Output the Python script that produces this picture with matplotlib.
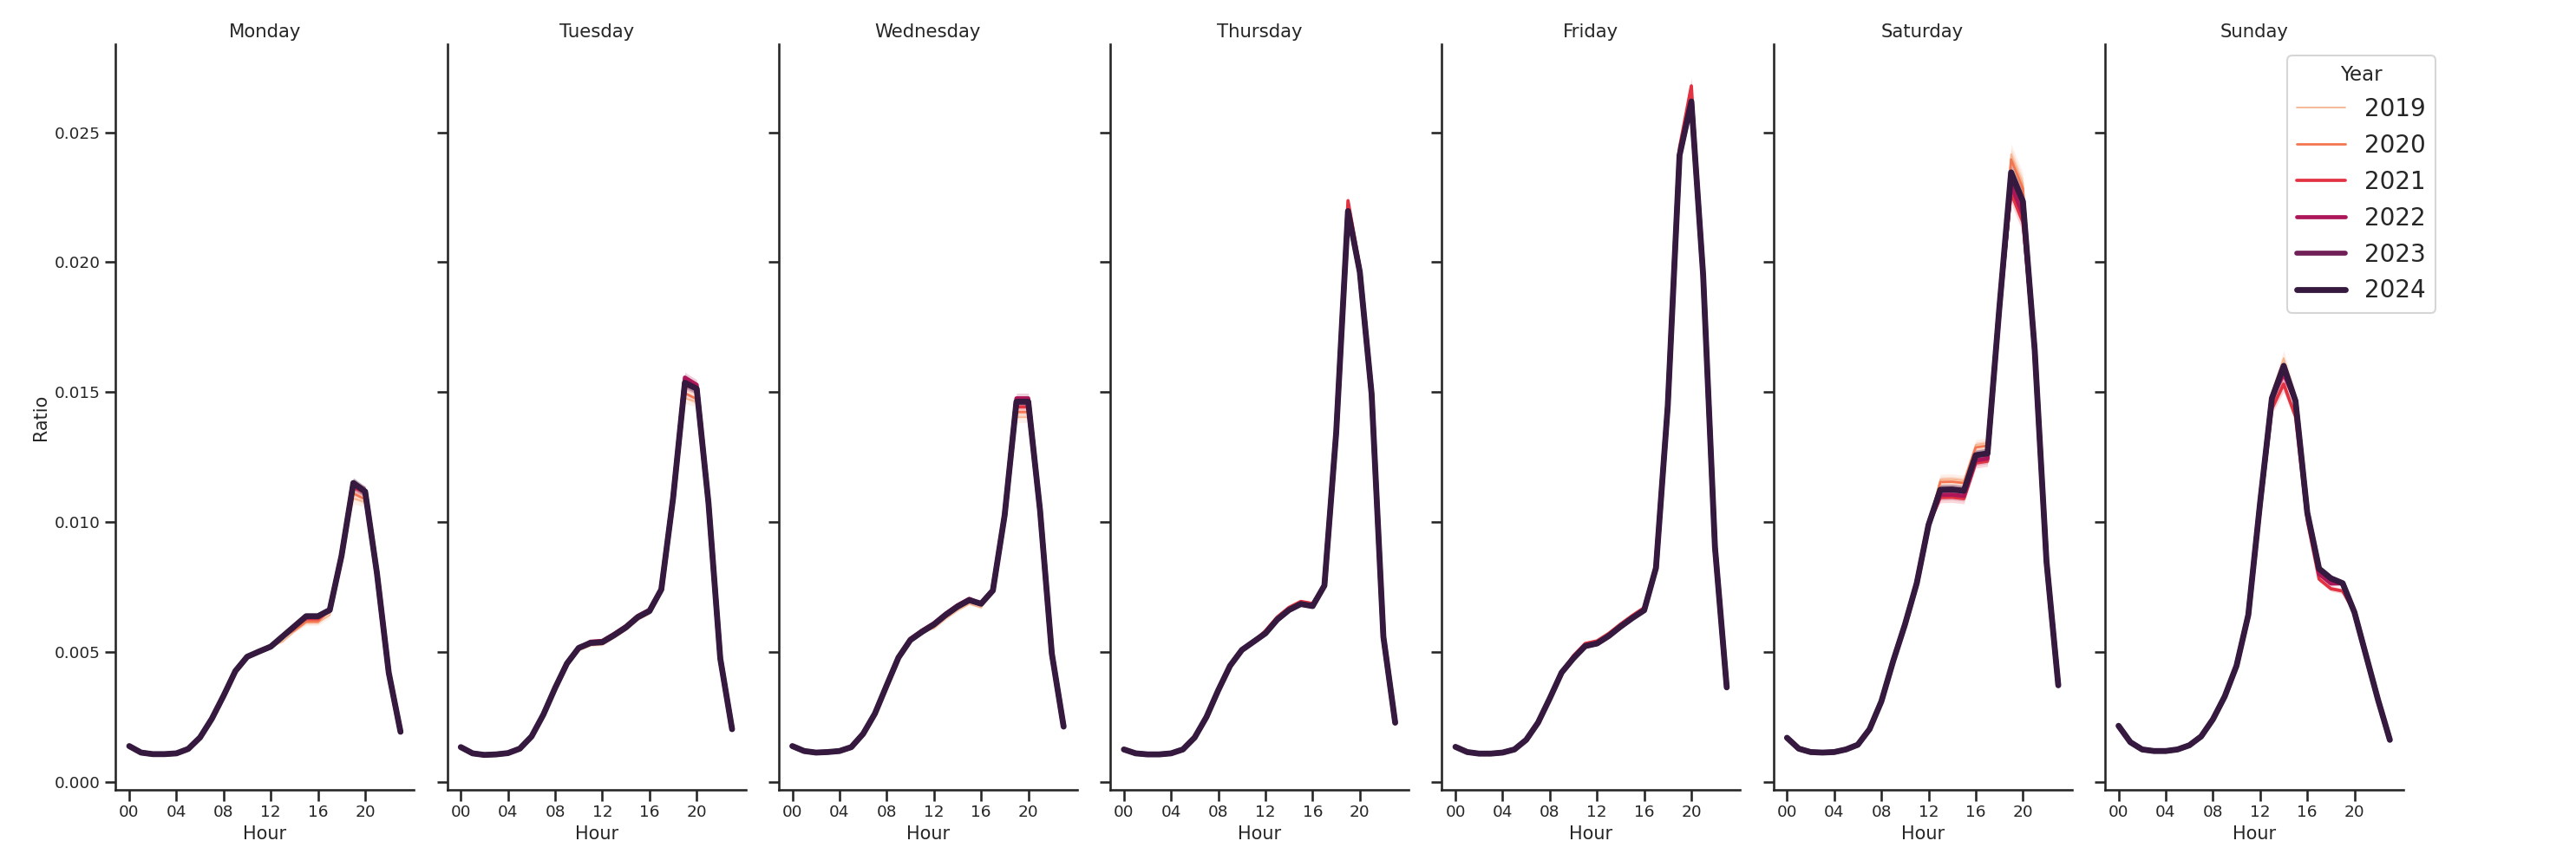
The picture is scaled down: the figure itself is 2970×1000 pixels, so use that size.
import matplotlib
matplotlib.use("Agg")
import matplotlib.pyplot as plt
import seaborn as sns

sns.set_theme(style="ticks", context="talk", font_scale=0.8)
plt.rcParams['font.family'] = ['DejaVu Sans']

days = ['Monday', 'Tuesday', 'Wednesday', 'Thursday', 'Friday', 'Saturday', 'Sunday']
years = [2019, 2020, 2021, 2022, 2023, 2024]
hours = list(range(24))
hour_ticks = [0, 4, 8, 12, 16, 20]
hour_labels = ['00', '04', '08', '12', '16', '20']

# 2024 line (the one drawn on top)
monday = [0.00137, 0.00112, 0.00106, 0.00106, 0.00109, 0.00126, 0.00170, 0.00242,
          0.00331, 0.00426, 0.00481, 0.00501, 0.00520, 0.00559, 0.00598, 0.00637,
          0.00637, 0.00661, 0.00870, 0.01150, 0.01117, 0.00803, 0.00420, 0.00192]
tuesday = [0.00133, 0.00109, 0.00103, 0.00105, 0.00110, 0.00127, 0.00174, 0.00258,
           0.00361, 0.00455, 0.00515, 0.00534, 0.00537, 0.00564, 0.00594, 0.00633,
           0.00657, 0.00740, 0.01092, 0.01536, 0.01513, 0.01073, 0.00474, 0.00202]
wednesday = [0.00137, 0.00118, 0.00112, 0.00114, 0.00118, 0.00133, 0.00184, 0.00262,
             0.00371, 0.00478, 0.00545, 0.00577, 0.00605, 0.00642, 0.00674, 0.00699,
             0.00685, 0.00736, 0.01026, 0.01463, 0.01463, 0.01045, 0.00493, 0.00212]
thursday = [0.00124, 0.00109, 0.00105, 0.00105, 0.00109, 0.00124, 0.00170, 0.00249,
            0.00352, 0.00446, 0.00507, 0.00539, 0.00571, 0.00624, 0.00661, 0.00684,
            0.00676, 0.00755, 0.01345, 0.02197, 0.01963, 0.01494, 0.00558, 0.00227]
friday = [0.00134, 0.00114, 0.00108, 0.00108, 0.00112, 0.00124, 0.00161, 0.00227,
          0.00321, 0.00420, 0.00475, 0.00522, 0.00532, 0.00561, 0.00597, 0.00630,
          0.00660, 0.00823, 0.01446, 0.02412, 0.02619, 0.01951, 0.00904, 0.00363]
saturday = [0.00169, 0.00127, 0.00114, 0.00112, 0.00114, 0.00124, 0.00142, 0.00202,
            0.00309, 0.00464, 0.00605, 0.00764, 0.00989, 0.01124, 0.01125, 0.01120,
            0.01257, 0.01264, 0.01822, 0.02346, 0.02234, 0.01663, 0.00848, 0.00371]
sunday = [0.00215, 0.00152, 0.00124, 0.00118, 0.00118, 0.00124, 0.00140, 0.00174,
          0.00240, 0.00328, 0.00446, 0.00642, 0.01073, 0.01476, 0.01601, 0.01466,
          0.01036, 0.00820, 0.00783, 0.00764, 0.00652, 0.00483, 0.00315, 0.00161]
ratio_2024 = dict(zip(days, [monday, tuesday, wednesday, thursday, friday, saturday, sunday]))

# where an earlier year visibly differs from 2024: {day: {year: {hour: difference}}}
year_diff = {
    'Monday': {2019: {13: -0.0002, 14: -0.0002, 15: -0.00025, 16: -0.00025, 17: -0.0002, 19: -0.0006, 20: -0.0004},
               2020: {14: -0.00015, 15: -0.0002, 16: -0.0002, 19: -0.0004, 20: -0.0003},
               2021: {15: -0.0001, 16: -0.0001, 19: -0.0002},
               2022: {19: -0.0001}},
    'Tuesday': {2019: {10: -0.0001, 11: -0.0001, 12: -0.0001, 13: -0.0001, 14: -0.0001, 15: -0.0001, 16: -0.0001, 19: -0.0006, 20: -0.0005},
                2020: {19: -0.0004, 20: -0.0004},
                2021: {19: -0.0001},
                2022: {11: 0.00005, 12: 0.00005, 13: 0.00005, 14: 0.00005, 15: 0.00005, 16: 0.00005, 19: 0.0002, 20: 0.00015}},
    'Wednesday': {2019: {12: -0.00015, 13: -0.00015, 14: -0.00015, 15: -0.00015, 16: -0.00015, 19: -0.0006, 20: -0.0006},
                  2020: {19: -0.0004, 20: -0.0004},
                  2021: {19: -0.0002, 20: -0.0002},
                  2022: {10: 0.00005, 11: 0.00005, 12: 0.00005, 13: 0.00005, 14: 0.00005, 15: 0.00005, 19: 0.00013, 20: 0.00013}},
    'Thursday': {2019: {19: 0.0002},
                 2020: {19: 0.0003},
                 2021: {12: 0.0001, 13: 0.0001, 14: 0.0001, 15: 0.0001, 16: 0.0001, 19: 0.0004, 20: 0.0002}},
    'Friday': {2020: {20: 0.0003},
               2021: {10: 0.0001, 11: 0.0001, 12: 0.0001, 13: 0.0001, 14: 0.0001, 15: 0.0001, 16: 0.0001, 19: 0.0003, 20: 0.0006}},
    'Saturday': {2019: {13: 0.0004, 14: 0.0004, 15: 0.0004, 16: 0.0004, 17: 0.0004, 19: 0.0007, 20: 0.0007},
                 2020: {13: 0.0003, 14: 0.0003, 15: 0.0003, 16: 0.0003, 17: 0.0003, 19: 0.0005, 20: 0.0005},
                 2021: {13: -0.0003, 14: -0.0003, 15: -0.0003, 16: -0.0003, 17: -0.0003, 19: -0.0008, 20: -0.0008},
                 2022: {13: -0.0002, 14: -0.0002, 15: -0.0002, 16: -0.0002, 17: -0.0002, 19: -0.0005, 20: -0.0005},
                 2023: {19: -0.0002}},
    'Sunday': {2019: {13: 0.0002, 14: 0.0003, 15: 0.0002},
               2020: {14: -0.0002},
               2021: {12: -0.0003, 13: -0.0004, 14: -0.0007, 15: -0.0006, 16: -0.0003, 17: -0.0004, 18: -0.0004, 19: -0.0003},
               2022: {14: -0.0003, 17: -0.0002, 18: -0.0002},
               2023: {14: -0.0001}},
}

# half width of the shaded band, where it shows
band = {
    'Monday': {15: 0.0001, 16: 0.0001, 17: 0.0001, 19: 0.0002, 20: 0.0002},
    'Tuesday': {19: 0.0002, 20: 0.0002},
    'Wednesday': {19: 0.0002, 20: 0.0002},
    'Thursday': {19: 0.0002, 20: 0.0001},
    'Friday': {19: 0.0002, 20: 0.0003},
    'Saturday': {13: 0.0002, 14: 0.0002, 15: 0.0002, 16: 0.0002, 17: 0.0002, 19: 0.0004, 20: 0.0004},
    'Sunday': {13: 0.0002, 14: 0.0003, 15: 0.0002, 17: 0.0001, 18: 0.0001, 19: 0.0001},
}

colors = sns.color_palette("rocket_r", len(years))
widths = [1.3, 2.0, 2.7, 3.4, 4.1, 4.9]

fig, axes = plt.subplots(1, 7, figsize=(29.7, 10), dpi=100, sharey=True)
fig.subplots_adjust(left=0.0449, right=0.933, bottom=0.089, top=0.949, wspace=0.111)

handles = []
for ax, day in zip(axes, days):
    base = ratio_2024[day]
    for year, color, lw in zip(years, colors, widths):
        diff = year_diff[day].get(year, {})
        vals = [v + diff.get(h, 0.0) for h, v in zip(hours, base)]
        lo = [v - band[day].get(h, 0.00004) for h, v in zip(hours, vals)]
        hi = [v + band[day].get(h, 0.00004) for h, v in zip(hours, vals)]
        line, = ax.plot(hours, vals, color=color, lw=lw, label=str(year))
        ax.fill_between(hours, lo, hi, color=color, alpha=0.2, linewidth=0)
        if day == 'Monday':
            handles.append(line)
    ax.set_title(day, fontsize=15.3)
    ax.set_xticks(hour_ticks)
    ax.set_xticklabels(hour_labels)
    ax.set_xlabel('Hour', fontsize=15)
    ax.tick_params(labelsize=13.3)
    sns.despine(ax=ax)

axes[0].set_ylabel('Ratio', fontsize=15)
axes[0].set_yticks([0.0, 0.005, 0.01, 0.015, 0.02, 0.025])
axes[0].set_yticklabels(['0.000', '0.005', '0.010', '0.015', '0.020', '0.025'])

fig.legend(handles, [str(y) for y in years], title='Year', loc='upper right',
           bbox_to_anchor=(0.9455, 0.936), borderaxespad=0, frameon=True,
           fontsize=20, title_fontsize=16.5, labelspacing=0.5)

fig.savefig('out.png', dpi=100)
